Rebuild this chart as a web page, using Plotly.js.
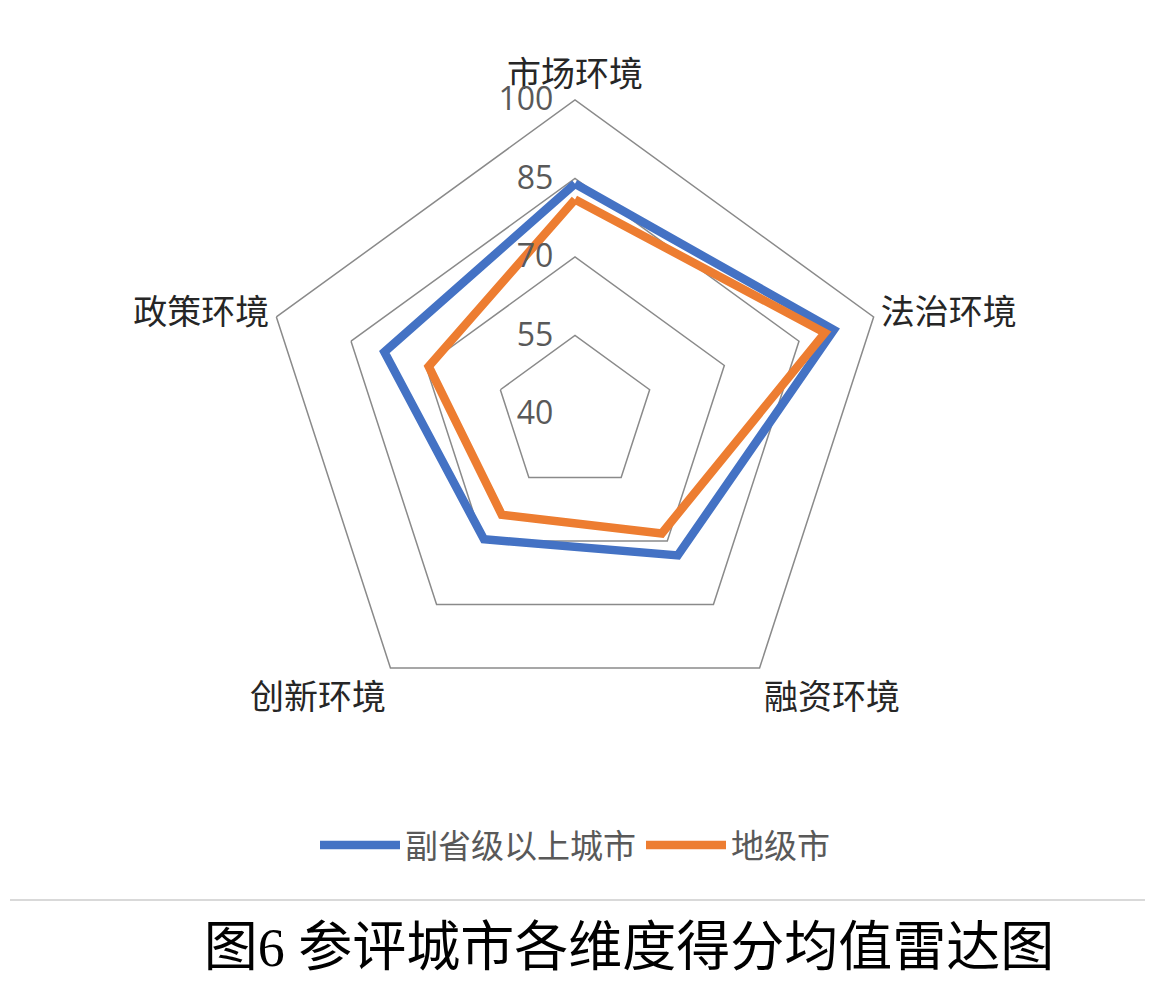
<!DOCTYPE html>
<html>
<head>
<meta charset="utf-8">
<script src="https://cdn.plot.ly/plotly-3.0.1.min.js"></script>
<style>html,body{margin:0;padding:0;background:#fff;}#chart{width:1170px;height:1004px;}</style>
</head>
<body>
<div id="chart"></div>
<script>
var categories = ['市场环境', '法治环境', '融资环境', '创新环境', '政策环境'];
var seriesNames = ['副省级以上城市', '地级市'];
var viceProvincial = [84, 92, 73.4, 69.6, 78.3];
var prefecture = [81, 90.2, 68.2, 63.8, 69.4];
var radialTicks = [40, 55, 70, 85, 100];
var titleText = '图6 参评城市各维度得分均值雷达图';

function closeLoop(arr) { return arr.concat([arr[0]]); }

var traces = [
  {
    type: 'scatterpolar', mode: 'lines', name: seriesNames[0],
    r: closeLoop(viceProvincial), theta: closeLoop(categories),
    line: {color: '#4472C4', width: 8.5}
  },
  {
    type: 'scatterpolar', mode: 'lines', name: seriesNames[1],
    r: closeLoop(prefecture), theta: closeLoop(categories),
    line: {color: '#ED7D31', width: 8.5}
  }
];

var cjk = 'Noto Sans CJK SC, Noto Sans, sans-serif';
var layout = {
  width: 1170, height: 1004,
  margin: {l: 0, r: 0, t: 0, b: 0},
  paper_bgcolor: '#ffffff',
  showlegend: true,
  polar: {
    domain: {x: [261/1170, 889/1170], y: [276/1004, 904/1004]},
    gridshape: 'linear',
    bgcolor: '#ffffff',
    radialaxis: {
      range: [40, 100], tickvals: radialTicks, ticktext: radialTicks.map(String),
      angle: 90, side: 'counterclockwise', tickangle: 90,
      showline: false, ticks: 'outside', ticklen: 10, tickcolor: 'rgba(0,0,0,0)',
      showgrid: true, gridcolor: '#8a8a8a', gridwidth: 1.5,
      tickfont: {family: 'Open Sans, Noto Sans, sans-serif', size: 32, color: '#595959'}
    },
    angularaxis: {
      direction: 'clockwise', rotation: 90,
      categoryarray: categories, categoryorder: 'array',
      showgrid: false, ticks: '', showline: true,
      linecolor: '#8a8a8a', linewidth: 1.5,
      tickfont: {family: cjk, size: 34, color: '#262626'}
    }
  },
  legend: {
    orientation: 'h', x: 575/1170, xanchor: 'center', y: 159/1004, yanchor: 'middle',
    font: {family: cjk, size: 33, color: '#595959'},
    itemwidth: 80
  },
  title: {
    text: titleText,
    font: {family: 'Liberation Serif, Noto Sans CJK SC, serif', size: 54, color: '#000000'},
    x: 629/1170, xanchor: 'center', xref: 'container',
    y: 57/1004, yanchor: 'middle', yref: 'container'
  },
  shapes: [
    {type: 'line', xref: 'paper', yref: 'paper', x0: 10/1170, x1: 1145/1170, y0: 104/1004, y1: 104/1004,
     line: {color: '#d9d9d9', width: 2}}
  ]
};

Plotly.newPlot('chart', traces, layout, {displayModeBar: false, staticPlot: true});
</script>
</body>
</html>
